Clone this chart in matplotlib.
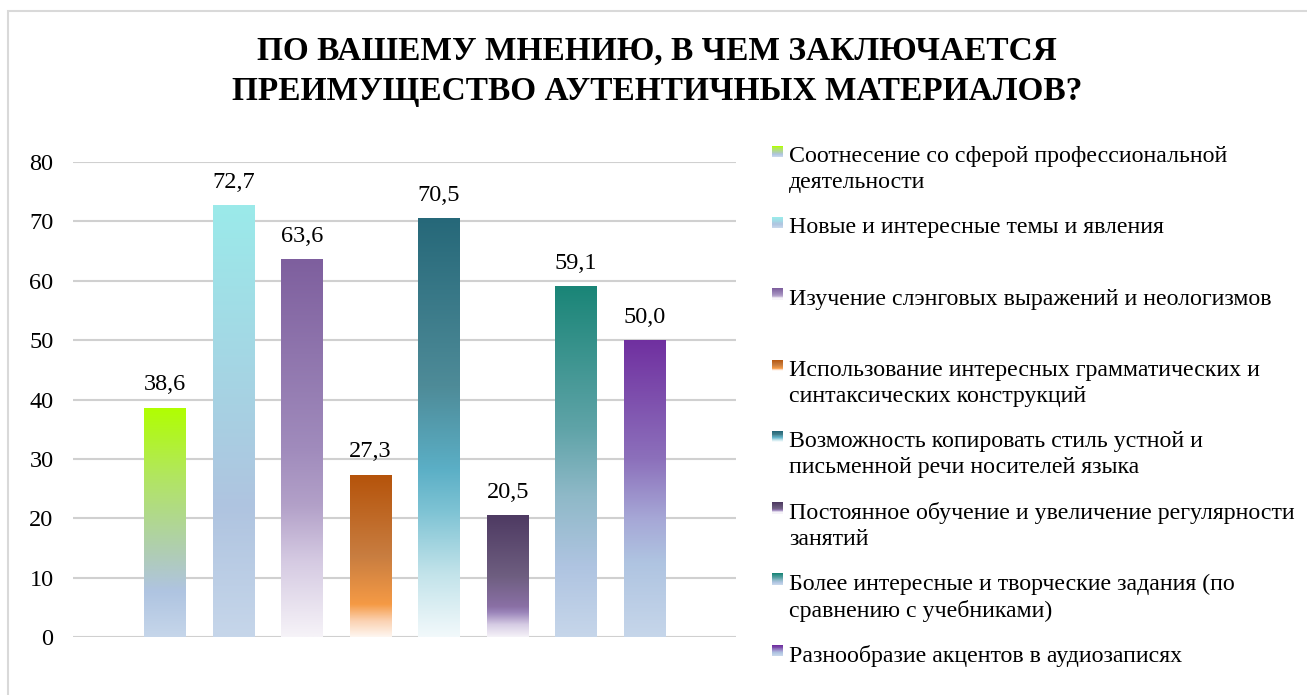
import matplotlib
matplotlib.use('Agg')
import matplotlib.pyplot as plt
import numpy as np
from matplotlib.colors import LinearSegmentedColormap
from matplotlib.patches import Rectangle

plt.rcParams['font.family'] = 'Liberation Serif'

# data
labels = [
    'Соотнесение со сферой профессиональной\nдеятельности',
    'Новые и интересные темы и явления',
    'Изучение слэнговых выражений и неологизмов',
    'Использование интересных грамматических и\nсинтаксических конструкций',
    'Возможность копировать стиль устной и\nписьменной речи носителей языка',
    'Постоянное обучение и увеличение регулярности\nзанятий',
    'Более интересные и творческие задания (по\nсравнению с учебниками)',
    'Разнообразие акцентов в аудиозаписях',
]
values = [38.6, 72.7, 63.6, 27.3, 70.5, 20.5, 59.1, 50.0]

# gradient stops per bar: (fraction from bottom, colour)
gradients = [
    [(0, '#C6D6EA'), (0.2, '#AFC4E1'), (0.35, '#AFCCB8'), (0.7, '#B2E660'), (1, '#B0FF00')],
    [(0, '#C6D6EA'), (0.3, '#AFC4E0'), (0.5, '#A8CFE2'), (1, '#9BEAEA')],
    [(0, '#F6F3F8'), (0.2, '#D5CAE2'), (0.35, '#B2A0C8'), (0.5, '#A08BBC'), (1, '#7E5F9E')],
    [(0, '#FEF6F0'), (0.1, '#FBD1B0'), (0.2, '#F59A45'), (0.5, '#C87D40'), (1, '#B5530A')],
    [(0, '#F2F9FB'), (0.15, '#C2E3EA'), (0.3, '#7EC3D4'), (0.4, '#5BAFC6'), (0.6, '#4E8B98'), (1, '#266879')],
    [(0, '#F5F2F8'), (0.1, '#D6CCE4'), (0.2, '#9B85BA'), (0.25, '#8A70A5'), (0.5, '#6E5E80'), (1, '#4E3A62')],
    [(0, '#C6D6EA'), (0.2, '#AFC4E1'), (0.4, '#8FB9C8'), (0.6, '#5EA3A7'), (1, '#1A8577')],
    [(0, '#C6D6EA'), (0.25, '#AFC4E1'), (0.4, '#A6A7D6'), (0.6, '#8C70BB'), (1, '#7030A0')],
]

W, H = 1307, 695
fig = plt.figure(figsize=(W / 100, H / 100), dpi=100)
ax = fig.add_axes([73 / W, (H - 637) / H, 663 / W, 475 / H])

x = np.arange(len(values))
bars = ax.bar(x, values, width=0.61, color='none', zorder=3)
grad = np.linspace(0, 1, 256).reshape(-1, 1)
for b, stops in zip(bars, gradients):
    cmap = LinearSegmentedColormap.from_list('g', stops)
    x0, w, h = b.get_x(), b.get_width(), b.get_height()
    im = ax.imshow(grad, cmap=cmap, origin='lower', aspect='auto',
                   extent=[x0, x0 + w, 0, h], zorder=3)
    im.set_clip_path(b)

for xi, v in zip(x, values):
    ax.annotate(f'{v:.1f}'.replace('.', ','), (xi, v), xytext=(0, 9),
                textcoords='offset points', ha='center', va='bottom', fontsize=17.5)

ax.set_xlim(-1.34, 8.33)
ax.set_ylim(0, 80)
ax.set_yticks(range(0, 81, 10))
ax.set_xticks([])
ax.grid(axis='y', color='#D0D0D0', linewidth=1.5, zorder=0)
for s in ax.spines.values():
    s.set_visible(False)
ax.tick_params(axis='y', length=0, pad=14, labelsize=17.5)

fig.text(657 / W, (H - 36) / H, 'ПО ВАШЕМУ МНЕНИЮ, В ЧЕМ ЗАКЛЮЧАЕТСЯ\nПРЕИМУЩЕСТВО АУТЕНТИЧНЫХ МАТЕРИАЛОВ?',
         ha='center', va='top', fontsize=24, fontweight='bold', linespacing=1.38)

# legend drawn by hand so the marker sits on the first line
for i, (lab, stops) in enumerate(zip(labels, gradients)):
    yc = 155 + 71.3 * i
    fig.text(789 / W, (H - yc + 9) / H, lab, ha='left', va='top', fontsize=17.2,
             linespacing=1.3)
    cmap = LinearSegmentedColormap.from_list('g', stops)
    n = 12
    for k in range(n):
        fig.patches.append(Rectangle((772 / W, (H - yc + 9 - 11 * (k + 1) / n) / H),
                                     11 / W, 11 / n / H + 0.0005,
                                     transform=fig.transFigure, color=cmap(1 - k / (n - 1)),
                                     lw=0))

fig.patches.append(Rectangle((8 / W, -10 / H), (W + 10) / W, (H - 1) / H,
                             transform=fig.transFigure, fill=False,
                             edgecolor='#D9D9D9', lw=1.5))

plt.savefig('out.png', dpi=100)
